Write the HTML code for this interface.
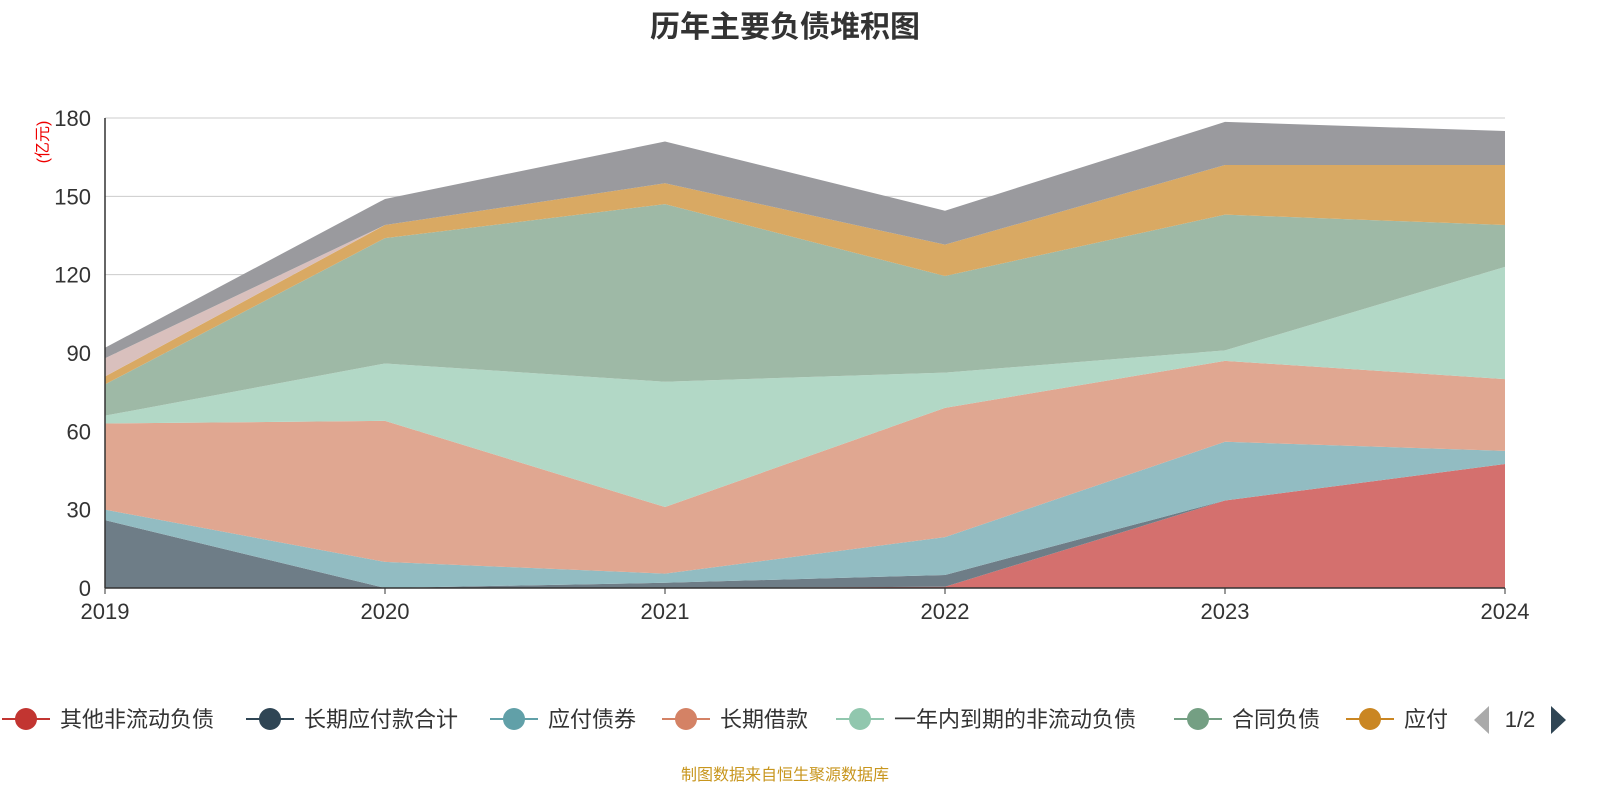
<!DOCTYPE html>
<html><head><meta charset="utf-8">
<style>
body{margin:0;background:#fff;width:1600px;height:800px;overflow:hidden;font-family:"Liberation Sans","Noto Sans CJK SC",sans-serif}
</style></head><body>
<svg id="c" width="1600" height="800" xmlns="http://www.w3.org/2000/svg"></svg>
<script>
const years=["2019","2020","2021","2022","2023","2024"];
const seriesNames=["其他非流动负债","长期应付款合计","应付债券","长期借款","一年内到期的非流动负债","合同负债","应付","其他","其他负债"];
const s0=[0,0,0,0.5,33.5,47.5];
const s1=[26,0,2,4.5,0,0];
const s2=[4,10,3.5,14.5,22.5,5];
const s3=[33,54,25.5,49.5,31,27.5];
const s4=[3,22,48,13.5,4,43];
const s5=[12,48,68,37,52,16];
const s6=[3,5,8,12,19,23];
const s7=[7,0,0,0,0,0];
const s8=[4,10,16,13,16.5,13];
const yTicks=[0,30,60,90,120,150,180];
const all=[s0,s1,s2,s3,s4,s5,s6,s7,s8];
const fills=["#d4706e","#6e7d87","#92bcc2","#e0a791","#b2d8c6","#9eb9a6","#d9a963","#d9c0bd","#9a9a9e"];
const legendColors=["#c23531","#2f4554","#61a0a8","#d48265","#91c7ae","#749f83","#ca8622"];
const X0=105,X1=1505,Y0=588,Y1=118;
const xs=i=>X0+(X1-X0)*i/(years.length-1);
const ys=v=>Y0-(Y0-Y1)*v/180;
const svg=document.getElementById('c');
const NS="http://www.w3.org/2000/svg";
function mk(t,a,txt){const e=document.createElementNS(NS,t);for(const k in a)e.setAttribute(k,a[k]);if(txt!==undefined)e.textContent=txt;svg.appendChild(e);return e;}
yTicks.forEach(v=>{
 const g=mk('line',{x1:X0,x2:X1,y1:ys(v),y2:ys(v),stroke:'#ccc','stroke-width':1});
 
 
 const t=mk('text',{x:X0-14,y:ys(v)+8,'text-anchor':'end','font-size':22,fill:'#333'},v);
 
 
});
let base=years.map(()=>0);
all.forEach((s,k)=>{
 const top=base.map((b,i)=>b+s[i]);
 let d='M'+top.map((v,i)=>xs(i)+','+ys(v)).join(' L');
 for(let i=years.length-1;i>=0;i--)d+=' L'+xs(i)+','+ys(base[i]);
 d+='Z';
 const p=mk('path',{d:d,fill:fills[k]});
 
 
 base=top;
});
const ax=mk('line',{x1:X0,x2:X0,y1:Y1,y2:Y0,stroke:'#333','stroke-width':1.5});


const bx=mk('line',{x1:X0,x2:X1,y1:Y0,y2:Y0,stroke:'#333','stroke-width':1.5});


years.forEach((y,i)=>{
 const tk=mk('line',{x1:xs(i),x2:xs(i),y1:Y0,y2:Y0+6,stroke:'#333'});
 
 
 const t=mk('text',{x:xs(i),y:Y0+31,'text-anchor':'middle','font-size':22,fill:'#333'},y);
 
 
});
const ti=mk('text',{x:785,y:37,'text-anchor':'middle','font-size':30,'font-weight':'bold',fill:'#333'},'历年主要负债堆积图');


const un=mk('text',{x:48,y:142,'text-anchor':'middle','font-size':16,fill:'#e00',transform:'rotate(-90 48 142)'},'(亿元)');


const lx=[2,246,490,662,836,1174,1346];
for(let k=0;k<7;k++){
 const g=document.createElementNS(NS,'g');svg.appendChild(g);
 
 
 const x=lx[k];
 g.innerHTML=`<line x1="${x}" x2="${x+48}" y1="719" y2="719" stroke="${legendColors[k]}" stroke-width="2"/><circle cx="${x+24}" cy="719" r="11" fill="${legendColors[k]}"/><text x="${x+58}" y="727" font-size="22" fill="#333">${seriesNames[k]}</text>`;
}
const pg=document.createElementNS(NS,'g');svg.appendChild(pg);


pg.innerHTML=`<polygon points="1489,706 1489,734 1474,720" fill="#aaa"/><text x="1520" y="727" text-anchor="middle" font-size="22" fill="#333">1/2</text><polygon points="1551,706 1551,734 1566,720" fill="#2f4554"/>`;
const src=mk('text',{x:785,y:780,'text-anchor':'middle','font-size':16,fill:'#c8961e'},'制图数据来自恒生聚源数据库');


</script>
</body></html>
